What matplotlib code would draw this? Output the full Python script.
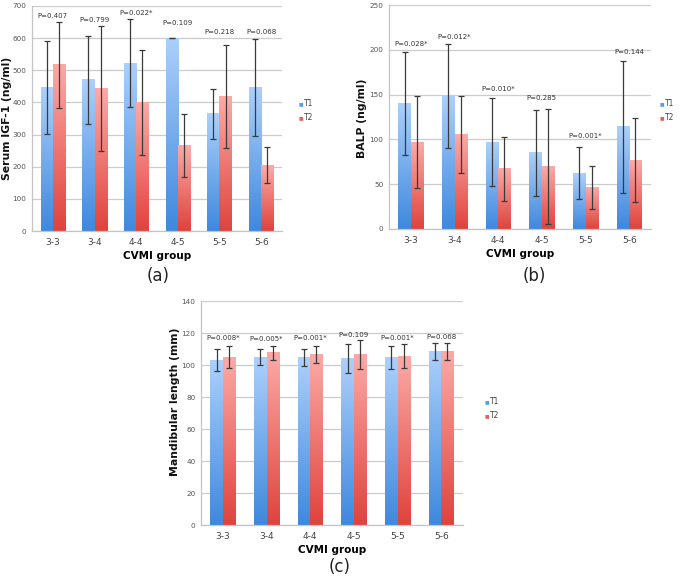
import numpy as np
import matplotlib
matplotlib.use("Agg")
import matplotlib.pyplot as plt
from matplotlib.colors import LinearSegmentedColormap

groups = ["3-3", "3-4", "4-4", "4-5", "5-5", "5-6"]

igf_t1 = [446, 470, 522, 600, 365, 447]
igf_t1_sd = [145, 136, 137, 0, 78, 150]
igf_t2 = [517, 443, 400, 265, 418, 205]
igf_t2_sd = [133, 195, 162, 98, 160, 55]
igf_p = ["P=0.407", "P=0.799", "P=0.022*", "P=0.109", "P=0.218", "P=0.068"]

balp_t1 = [140, 148, 97, 85, 62, 114]
balp_t1_sd = [57, 58, 49, 48, 29, 74]
balp_t2 = [97, 105, 67, 70, 46, 77]
balp_t2_sd = [51, 43, 36, 64, 24, 47]
balp_p = ["P=0.028*", "P=0.012*", "P=0.010*", "P=0.285", "P=0.001*", "P=0.144"]

mand_t1 = [103, 105, 104.6, 104.2, 104.8, 108.3]
mand_t1_sd = [7, 4.8, 5.5, 9, 7, 5.3]
mand_t2 = [105, 107.7, 106.5, 106.5, 105.6, 108.7]
mand_t2_sd = [7, 4.4, 5.3, 9.2, 7.3, 5.3]
mand_p = ["P=0.008*", "P=0.005*", "P=0.001*", "P=0.109", "P=0.001*", "P=0.068"]

# annotation heights (positions, kept separate)
igf_p_y = [668, 655, 677, 646, 620, 620]
balp_p_y = [207, 214, 156, 146, 104, 198]
mand_p_y = [117, 116.5, 116.8, 118.8, 117, 117.8]

blue_cmap = LinearSegmentedColormap.from_list("b", ["#3f88de", "#acd0fb"])
red_cmap = LinearSegmentedColormap.from_list("r", ["#df433d", "#fcaaa7"])

fig = plt.figure(figsize=(6.85, 5.79), dpi=100)
W, H = 685, 579


def ax_at(l, t, r, b):
    return fig.add_axes([l / W, 1 - b / H, (r - l) / W, (b - t) / H])


def gradient_bars(ax, bars, cmap):
    grad = np.linspace(0, 1, 256).reshape(-1, 1)
    for p in bars:
        x0 = p.get_x()
        w = p.get_width()
        h = p.get_height()
        p.set_facecolor("none")
        p.set_edgecolor("none")
        ax.imshow(grad, extent=[x0, x0 + w, 0, h], origin="lower",
                  aspect="auto", cmap=cmap, zorder=2, interpolation="bilinear")


def panel(ax, t1, t1sd, t2, t2sd, plabels, ply, ymax, ystep):
    x = np.arange(len(groups))
    bw = 0.29
    b1 = ax.bar(x - bw / 2, t1, bw, zorder=2)
    b2 = ax.bar(x + bw / 2, t2, bw, zorder=2)
    gradient_bars(ax, b1, blue_cmap)
    gradient_bars(ax, b2, red_cmap)
    ax.errorbar(x - bw / 2, t1, yerr=t1sd, fmt="none", ecolor="#3a3a3a",
                elinewidth=0.9, capsize=2.3, capthick=0.9, zorder=4)
    ax.errorbar(x + bw / 2, t2, yerr=t2sd, fmt="none", ecolor="#3a3a3a",
                elinewidth=0.9, capsize=2.3, capthick=0.9, zorder=4)
    for xi, lab, yy in zip(x, plabels, ply):
        ax.text(xi, yy, lab, ha="center", va="center", fontsize=5,
                color="#333333", zorder=5)
    ax.set_xlim(-0.5, len(groups) - 0.5)
    ax.set_ylim(0, ymax)
    ax.set_yticks(np.arange(0, ymax + 0.001, ystep))
    ax.set_xticks(x)
    ax.set_xticklabels(groups)
    ax.tick_params(axis="x", length=0, labelsize=6.5, colors="#444444", pad=5)
    ax.tick_params(axis="y", length=0, labelsize=5.2, colors="#555555", pad=4)
    ax.yaxis.grid(True, color="#cccccc", linewidth=0.9, zorder=0)
    ax.set_axisbelow(True)
    for s in ["top", "right"]:
        ax.spines[s].set_visible(False)
    for s in ["left", "bottom"]:
        ax.spines[s].set_color("#c4c4c4")
        ax.spines[s].set_linewidth(0.9)
    ax.set_xlabel("CVMI group", fontsize=7.5, fontweight="bold", labelpad=3)


def ylab(x, y, text):
    fig.text(x / W, 1 - y / H, text, fontsize=7.8, fontweight="bold",
             rotation=90, ha="center", va="center", color="#111111")


def legend(xm, y1, y2):
    for y, lab, c in [(y1, "T1", "#5b9be6"), (y2, "T2", "#e8605a")]:
        fig.text(xm / W, 1 - y / H, "\u25a0", fontsize=3.5, color=c,
                 ha="center", va="center")
        fig.text((xm + 2.5) / W, 1 - y / H, lab, fontsize=5.5, color="#444444",
                 ha="left", va="center")


ax_a = ax_at(32, 6, 282, 231)
panel(ax_a, igf_t1, igf_t1_sd, igf_t2, igf_t2_sd, igf_p, igf_p_y, 700, 100)
ylab(7, 118, "Serum IGF-1 (ng/ml)")
legend(301, 104, 118)
fig.text(158 / W, 1 - 276 / H, "(a)", fontsize=12, ha="center", va="center",
         color="#222222")

ax_b = ax_at(389, 5, 651, 229)
panel(ax_b, balp_t1, balp_t1_sd, balp_t2, balp_t2_sd, balp_p, balp_p_y, 250, 50)
ylab(362, 118, "BALP (ng/ml)")
legend(662, 104, 118)
fig.text(534 / W, 1 - 276 / H, "(b)", fontsize=12, ha="center", va="center",
         color="#222222")

ax_c = ax_at(201, 301, 463, 525)
panel(ax_c, mand_t1, mand_t1_sd, mand_t2, mand_t2_sd, mand_p, mand_p_y, 140, 20)
ylab(175, 402, "Mandibular length (mm)")
legend(487, 402, 416)
fig.text(340 / W, 1 - 567 / H, "(c)", fontsize=12, ha="center", va="center",
         color="#222222")

fig.savefig("out.png", dpi=100, facecolor="white")
